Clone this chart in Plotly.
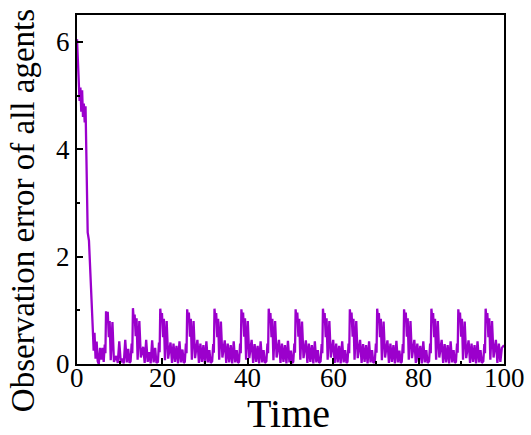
import plotly.graph_objects as go

# Initial transient
t0 = [0.0, 0.3, 0.6, 0.8, 1.0, 1.2, 1.4, 1.6, 1.8, 2.0, 2.2, 2.5, 2.8, 3.1, 3.4, 3.7,
      3.9, 4.1, 4.35, 4.6, 4.85, 5.1, 5.4, 5.7, 6.0]
e0 = [6.05, 5.6, 4.9, 5.15, 4.7, 5.1, 4.6, 4.85, 4.5, 4.8, 3.9, 2.45, 2.3, 1.6, 1.2, 0.65,
      0.25, 0.58, 0.1, 0.42, 0.05, 0.0, 0.3, 0.08, 0.3]

# Periodic steady-state oscillation (read per cycle)
t1 = [6.25, 6.5, 6.65, 6.8, 7.0, 7.2, 7.45, 7.65, 7.9, 8.3, 8.65, 9.2, 9.55, 9.9, 10.25, 10.6, 10.95, 11.3, 11.65, 12.0, 12.3,
      12.55, 12.8, 12.95, 13.1, 13.3, 13.5, 13.75, 13.95, 14.2, 14.6, 14.95, 15.5, 15.85, 16.2, 16.55, 16.9, 17.25, 17.6, 17.95, 18.3, 18.6,
      18.95, 19.2, 19.35, 19.5, 19.7, 19.9, 20.15, 20.35, 20.6, 21.0, 21.35, 21.9, 22.25, 22.6, 22.95, 23.3, 23.65, 24.0, 24.35, 24.7, 25.0,
      25.25, 25.5, 25.65, 25.8, 26.0, 26.2, 26.45, 26.65, 26.9, 27.3, 27.65, 28.2, 28.55, 28.9, 29.25, 29.6, 29.95, 30.3, 30.65, 31.0, 31.3,
      31.65, 31.9, 32.05, 32.2, 32.4, 32.6, 32.85, 33.05, 33.3, 33.7, 34.05, 34.6, 34.95, 35.3, 35.65, 36.0, 36.35, 36.7, 37.05, 37.4, 37.7,
      37.95, 38.2, 38.35, 38.5, 38.7, 38.9, 39.15, 39.35, 39.6, 40.0, 40.35, 40.9, 41.25, 41.6, 41.95, 42.3, 42.65, 43.0, 43.35, 43.7, 44.0,
      44.35, 44.6, 44.75, 44.9, 45.1, 45.3, 45.55, 45.75, 46.0, 46.4, 46.75, 47.3, 47.65, 48.0, 48.35, 48.7, 49.05, 49.4, 49.75, 50.1, 50.4,
      50.65, 50.9, 51.05, 51.2, 51.4, 51.6, 51.85, 52.05, 52.3, 52.7, 53.05, 53.6, 53.95, 54.3, 54.65, 55.0, 55.35, 55.7, 56.05, 56.4, 56.7,
      57.05, 57.3, 57.45, 57.6, 57.8, 58.0, 58.25, 58.45, 58.7, 59.1, 59.45, 60.0, 60.35, 60.7, 61.05, 61.4, 61.75, 62.1, 62.45, 62.8, 63.1,
      63.35, 63.6, 63.75, 63.9, 64.1, 64.3, 64.55, 64.75, 65.0, 65.4, 65.75, 66.3, 66.65, 67.0, 67.35, 67.7, 68.05, 68.4, 68.75, 69.1, 69.4,
      69.75, 70.0, 70.15, 70.3, 70.5, 70.7, 70.95, 71.15, 71.4, 71.8, 72.15, 72.7, 73.05, 73.4, 73.75, 74.1, 74.45, 74.8, 75.15, 75.5, 75.8,
      76.05, 76.3, 76.45, 76.6, 76.8, 77.0, 77.25, 77.45, 77.7, 78.1, 78.45, 79.0, 79.35, 79.7, 80.05, 80.4, 80.75, 81.1, 81.45, 81.8, 82.1,
      82.45, 82.7, 82.85, 83.0, 83.2, 83.4, 83.65, 83.85, 84.1, 84.5, 84.85, 85.4, 85.75, 86.1, 86.45, 86.8, 87.15, 87.5, 87.85, 88.2, 88.5,
      88.75, 89.0, 89.15, 89.3, 89.5, 89.7, 89.95, 90.15, 90.4, 90.8, 91.15, 91.7, 92.05, 92.4, 92.75, 93.1, 93.45, 93.8, 94.15, 94.5, 94.8,
      95.15, 95.4, 95.55, 95.7, 95.9, 96.1, 96.35, 96.55, 96.8, 97.2, 97.55, 98.1, 98.45, 98.8, 99.15, 99.5, 100.0]
e1 = [0.04, 0.36, 0.2, 0.98, 0.8, 0.97, 0.5, 0.8, 0.07, 0.78, 0.04, 0.15, 0.02, 0.42, 0.03, 0.1, 0.01, 0.45, 0.03, 0.28, 0.02,
      0.05, 0.38, 0.2, 1.04, 0.82, 0.92, 0.52, 0.85, 0.08, 0.8, 0.12, 0.32, 0.02, 0.45, 0.04, 0.22, 0.01, 0.44, 0.03, 0.3, 0.02,
      0.04, 0.4, 0.22, 1.03, 0.83, 0.95, 0.5, 0.84, 0.07, 0.8, 0.1, 0.4, 0.02, 0.38, 0.04, 0.34, 0.01, 0.42, 0.03, 0.27, 0.02,
      0.04, 0.38, 0.2, 1.02, 0.82, 0.96, 0.51, 0.84, 0.08, 0.8, 0.11, 0.45, 0.02, 0.38, 0.04, 0.35, 0.01, 0.42, 0.03, 0.26, 0.02,
      0.05, 0.37, 0.21, 1.03, 0.83, 0.95, 0.5, 0.84, 0.08, 0.79, 0.12, 0.44, 0.02, 0.38, 0.03, 0.35, 0.01, 0.42, 0.03, 0.26, 0.02,
      0.04, 0.38, 0.2, 1.02, 0.82, 0.96, 0.51, 0.85, 0.08, 0.8, 0.11, 0.45, 0.02, 0.37, 0.04, 0.34, 0.01, 0.42, 0.03, 0.26, 0.02,
      0.05, 0.38, 0.2, 1.03, 0.83, 0.95, 0.5, 0.84, 0.07, 0.8, 0.12, 0.45, 0.02, 0.38, 0.04, 0.35, 0.01, 0.43, 0.03, 0.25, 0.02,
      0.04, 0.38, 0.21, 1.02, 0.82, 0.96, 0.51, 0.84, 0.08, 0.79, 0.11, 0.44, 0.02, 0.38, 0.04, 0.35, 0.01, 0.42, 0.03, 0.26, 0.02,
      0.05, 0.37, 0.2, 1.03, 0.83, 0.95, 0.5, 0.85, 0.08, 0.8, 0.12, 0.45, 0.02, 0.38, 0.03, 0.34, 0.01, 0.42, 0.03, 0.26, 0.02,
      0.04, 0.38, 0.2, 1.02, 0.82, 0.96, 0.51, 0.84, 0.08, 0.8, 0.11, 0.45, 0.02, 0.37, 0.04, 0.35, 0.01, 0.42, 0.03, 0.26, 0.02,
      0.05, 0.38, 0.21, 1.03, 0.83, 0.95, 0.5, 0.84, 0.07, 0.79, 0.12, 0.44, 0.02, 0.38, 0.04, 0.35, 0.01, 0.43, 0.03, 0.25, 0.02,
      0.04, 0.37, 0.2, 1.02, 0.82, 0.96, 0.51, 0.85, 0.08, 0.8, 0.11, 0.45, 0.02, 0.38, 0.04, 0.34, 0.01, 0.42, 0.03, 0.26, 0.02,
      0.05, 0.38, 0.2, 1.03, 0.83, 0.95, 0.5, 0.84, 0.08, 0.8, 0.12, 0.45, 0.02, 0.37, 0.03, 0.35, 0.01, 0.42, 0.03, 0.26, 0.02,
      0.04, 0.38, 0.21, 1.02, 0.82, 0.96, 0.51, 0.84, 0.08, 0.79, 0.11, 0.44, 0.02, 0.38, 0.04, 0.35, 0.01, 0.42, 0.03, 0.26, 0.02,
      0.05, 0.37, 0.2, 1.03, 0.83, 0.95, 0.5, 0.85, 0.08, 0.8, 0.12, 0.45, 0.02, 0.38, 0.04, 0.3, 0.35]

time = t0 + t1
error = e0 + e1

x_ticks = [0, 20, 40, 60, 80, 100]
x_tick_labels = ["0", "20", "40", "60", "80", "100"]
y_ticks = [0, 2, 4, 6]
x_title = "Time"
y_title = "Observation error of all agents"

FONT = "Liberation Serif"
LINE = "#9B00CC"

fig = go.Figure()
fig.add_trace(go.Scatter(x=time, y=error, mode="lines",
                         line=dict(color=LINE, width=2.3), showlegend=False))

axis_common = dict(showline=True, linecolor="black", linewidth=2, mirror=True,
                   ticks="inside", tickcolor="black", tickwidth=2, ticklen=6,
                   showgrid=False, zeroline=False, automargin=False,
                   tickfont=dict(family=FONT, size=27, color="black"))

fig.update_xaxes(range=[0, 100], tickvals=x_ticks, showticklabels=False,
                 minor=dict(ticks="inside", ticklen=3, tickwidth=2, tickcolor="black", dtick=10, tick0=0),
                 **axis_common)
fig.update_yaxes(range=[0, 6.5], tickvals=y_ticks,
                 minor=dict(ticks="inside", ticklen=3, tickwidth=2, tickcolor="black", dtick=1, tick0=0),
                 **axis_common)

# x tick labels placed at the axis' own tick values
for v, lab in zip(x_ticks, x_tick_labels):
    fig.add_annotation(text=lab, xref="x", yref="paper", x=v, y=0, yshift=-14,
                       xanchor="center", yanchor="middle", showarrow=False,
                       font=dict(family=FONT, size=27, color="black"))

fig.add_annotation(text=y_title, textangle=-90, xref="paper", yref="paper",
                   x=0, y=0.438, xshift=-54, xanchor="center", yanchor="middle",
                   showarrow=False, font=dict(family=FONT, size=33, color="black"))
fig.add_annotation(text=x_title, xref="paper", yref="paper",
                   x=0.495, y=0, yshift=-49, xanchor="center", yanchor="middle",
                   showarrow=False, font=dict(family=FONT, size=40, color="black"))

fig.update_layout(width=531, height=435, margin=dict(l=77, r=27, t=15, b=71),
                  paper_bgcolor="white", plot_bgcolor="white")

fig.write_html("out.html", config={"displayModeBar": False},
               post_script="document.body.style.margin='0';document.body.style.padding='0';")
